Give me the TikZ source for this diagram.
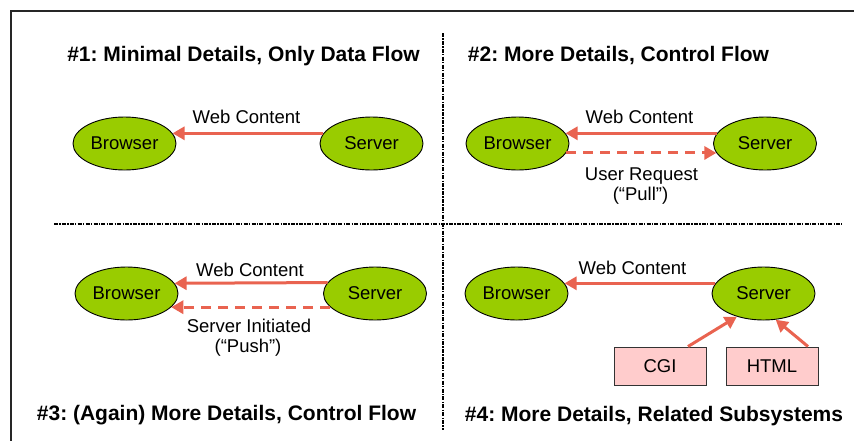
\documentclass[tikz,border=0pt]{standalone}
\usepackage{fontspec}
\setmainfont{Liberation Sans}
\usetikzlibrary{arrows.meta,shapes.geometric}
\definecolor{nodegreen}{RGB}{153,204,0}
\definecolor{flowred}{RGB}{233,99,80}
\definecolor{boxpink}{RGB}{255,204,204}
\frenchspacing
\begin{document}
\begin{tikzpicture}[x=1pt,y=-1pt,
  entity/.style={ellipse, draw=black, line width=0.9pt, fill=nodegreen, minimum width=103pt, minimum height=53pt, inner sep=0pt, font=\fontsize{18.5}{20}\selectfont},
  subsys/.style={rectangle, draw=black!80, line width=1pt, fill=boxpink, minimum width=92pt, minimum height=38pt, inner sep=0pt, font=\fontsize{18.5}{20}\selectfont},
  flow/.style={draw=flowred, line width=3pt, -{Triangle[length=12pt,width=13pt]}},
  ctrl/.style={flow, dash pattern=on 10pt off 7pt},
  lbl/.style={anchor=base, inner sep=0pt, font=\fontsize{18.5}{20}\selectfont},
  ttl/.style={anchor=base, inner sep=0pt, font=\bfseries\fontsize{21}{24}\selectfont},
  divider/.style={line width=1.5pt, dash pattern=on 4pt off 1.3pt on 1.3pt off 1.3pt},
  frameline/.style={line width=1.5pt, draw=black!85}]
\useasboundingbox (0,0) rectangle (854,440);

% frame and dividers
\draw[frameline] (860,11) -- (11,11) -- (11,446);
\draw[divider] (443,33) -- (443,430);
\draw[divider] (54,224) -- (842,224);

% titles
\node[ttl] (t1) at (243.5,61) {\#1: Minimal Details, Only Data Flow};
\node[ttl] (t2) at (618.5,61) {\#2: More Details, Control Flow};
\node[ttl] (t3) at (226.5,420) {\#3: (Again) More Details, Control Flow};
\node[ttl] (t4) at (654,421) {\#4: More Details, Related Subsystems};

% Q1
\node[entity] (b1) at (124.5,143.5) {Browser};
\node[entity] (s1) at (371.5,143.5) {Server};
\draw[flow] (s1.168) -- (b1.12);
\node[lbl] (w1) at (246.5,123) {Web Content};

% Q2
\node[entity] (b2) at (517.5,143.5) {Browser};
\node[entity] (s2) at (765,143.5) {Server};
\draw[flow] (s2.168) -- (b2.12);
\draw[ctrl] (b2.-11) -- (s2.191);
\node[lbl] (w2) at (639.5,123) {Web Content};
\node[lbl] (u2) at (641.5,180) {User Request};
\node[lbl] (p2) at (640.5,200) {(“Pull”)};

% Q3
\node[entity] (b3) at (126.5,293.5) {Browser};
\node[entity] (s3) at (375,293.5) {Server};
\draw[flow] (s3.167.5) -- (b3.12.5);
\draw[ctrl] (s3.197) -- (b3.-17);
\node[lbl] (w3) at (250,276) {Web Content};
\node[lbl] (i3) at (249,332) {Server Initiated};
\node[lbl] (p3) at (248,352) {(“Push”)};

% Q4
\node[entity] (b4) at (516.5,293.5) {Browser};
\node[entity] (s4) at (763.5,293.5) {Server};
\draw[flow] (s4.168) -- (b4.12);
\node[lbl] (w4) at (632.5,274) {Web Content};
\node[subsys] (cgi) at (660,366) {CGI};
\node[subsys] (html) at (772,366) {HTML};
\draw[flow] ([xshift=28pt]cgi.north) -- (s4.221);
\draw[flow] ([xshift=36pt]html.north) -- (s4.295);
\end{tikzpicture}
\end{document}
